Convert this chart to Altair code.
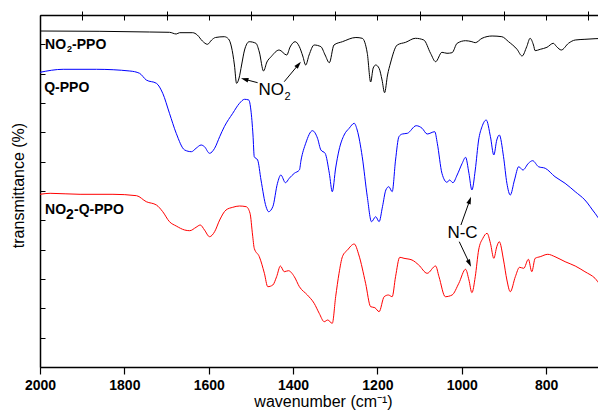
import altair as alt
import pandas as pd

FONT = "Liberation Sans, Arial, Helvetica, sans-serif"

series_names = ["NO2-PPO", "Q-PPO", "NO2-Q-PPO"]
series_colors = ["#000000", "#0000ff", "#ff0000"]

black_wn = [2000, 1858, 1740, 1693, 1677, 1669, 1638, 1627, 1615, 1603,
            1593, 1584, 1563, 1553, 1546, 1539, 1534, 1528, 1522, 1515,
            1504, 1488, 1480, 1470, 1462, 1452, 1433, 1415, 1407, 1395,
            1385, 1377, 1370, 1362, 1350, 1334, 1324, 1314, 1303, 1283,
            1251, 1236, 1224, 1216, 1210, 1204, 1196, 1189, 1183, 1176,
            1169, 1153, 1133, 1110, 1090, 1074, 1062, 1047, 1035, 1023,
            1011, 991, 976, 968, 952, 928, 905, 889, 869, 857,
            846, 838, 830, 826, 814, 798, 783, 775, 764, 747,
            731, 708, 684, 658]
black_t = [336, 335.7, 335, 334.7, 333, 334.3, 334.3, 332, 326, 322.7,
           327, 329.5, 330.3, 328, 320, 302, 283.7, 289, 302, 317,
           325.3, 323.7, 315, 296, 305, 310.3, 317, 312, 320, 325.3,
           320.3, 311, 302, 312, 322, 320.3, 312, 304.3, 322, 325.3,
           329.5, 328.7, 313.7, 285, 299, 302, 298.7, 287, 274.3, 292,
           304, 322, 324.7, 328.7, 327, 313.7, 305.3, 314.7, 313.7, 314.3,
           323.7, 326.3, 325.3, 324.3, 328.7, 331, 330.3, 325.3, 317.7, 311,
           320.3, 328.7, 322, 316.3, 317.7, 319.7, 323.7, 320.3, 317, 323.7,
           327, 327.7, 328.3, 328.7]

blue_wn = [2000, 1945, 1866, 1787, 1764, 1748, 1724, 1709, 1693, 1677,
           1657, 1641, 1630, 1618, 1610, 1598, 1586, 1574, 1563, 1543,
           1527, 1515, 1505, 1500, 1495, 1492, 1484, 1476, 1464, 1458,
           1448, 1437, 1429, 1418, 1409, 1397, 1385, 1381, 1370, 1354,
           1342, 1334, 1324, 1314, 1307, 1299, 1291, 1279, 1267, 1255,
           1248, 1236, 1224, 1214, 1204, 1196, 1188, 1180, 1173, 1165,
           1157, 1149, 1141, 1129, 1108, 1094, 1082, 1064, 1058, 1047,
           1035, 1029, 1021, 1011, 999, 991, 983, 976, 968, 960,
           952, 942, 932, 924, 917, 911, 901, 893, 885, 875,
           865, 855, 842, 832, 818, 802, 779, 755, 731, 708,
           684, 672, 658]
blue_t = [294.7, 297.7, 297.7, 296, 293.7, 287, 283.7, 273.7, 253.7, 233.7,
          217, 215.3, 218.7, 222, 220.3, 213.7, 218.7, 230.3, 240.3, 253.7,
          263.7, 267.7, 267, 257, 232, 210.3, 207, 187, 160.3, 155.3,
          160.3, 183.7, 192, 184.3, 188.7, 193.7, 197, 207, 223.7, 236.3,
          228.7, 217, 213.7, 193.7, 175.3, 199, 217, 232, 238.7, 243.7,
          237, 210.3, 170.3, 145.3, 150.3, 145.3, 160.3, 177, 180.3, 175.3,
          207, 230.3, 233, 233.7, 241.3, 238.7, 233, 235.3, 223.7, 193.7,
          184.7, 187, 184.3, 192, 203.7, 209.7, 193.7, 177, 197, 227,
          240.3, 247, 230.3, 212, 227, 232, 210.3, 183.7, 172, 187,
          200.3, 197, 203.7, 206.3, 200.3, 198.7, 190.3, 183.7, 175.3, 167,
          153.7, 147.7, 147]

red_wn = [2000, 1976, 1905, 1827, 1771, 1748, 1724, 1709, 1693, 1677,
          1657, 1645, 1630, 1620, 1610, 1598, 1586, 1574, 1559, 1543,
          1527, 1511, 1502, 1496, 1492, 1480, 1468, 1460, 1448, 1439,
          1430, 1421, 1411, 1397, 1385, 1366, 1350, 1338, 1326, 1318,
          1307, 1299, 1291, 1283, 1271, 1255, 1244, 1228, 1216, 1206,
          1196, 1184, 1174, 1165, 1157, 1147, 1137, 1118, 1102, 1082,
          1062, 1054, 1039, 1023, 1007, 991, 983, 976, 968, 960,
          950, 940, 932, 924, 917, 911, 901, 893, 885, 873,
          863, 853, 842, 834, 826, 814, 796, 779, 755, 731,
          708, 684, 672, 658]
red_t = [172.7, 173.7, 172.7, 172.7, 171.3, 165.3, 162, 155.3, 145.3, 141,
         137, 136.3, 139.7, 142, 137, 130.3, 135.3, 147, 157, 159.7,
         161, 160.3, 153.7, 132, 118.7, 110.3, 93.7, 80.3, 82, 90.3,
         101, 95.3, 96.3, 90.3, 80.3, 72, 63.7, 53.7, 45.3, 47,
         43.7, 70.3, 93.7, 110.3, 117, 123, 112, 83.7, 60.3, 59.3,
         55.3, 70.3, 72, 70.3, 90.3, 109.7, 108.7, 107, 102, 93.7,
         101, 90.3, 70.3, 72, 83.7, 97.7, 87, 74.3, 90.3, 117,
         128.7, 133.7, 123.7, 108.7, 120.3, 125.3, 107, 87, 75.3, 90.3,
         99.7, 98.7, 107.7, 95.3, 108.7, 110.3, 112.7, 110.3, 105.3, 101,
         95.3, 88.7, 83, 82]

x_ticks_major = [2000, 1800, 1600, 1400, 1200, 1000, 800]
x_ticks_minor = [1900, 1700, 1500, 1300, 1100, 900, 700]
x_ticks_top = [2000, 1900, 1800, 1700, 1600, 1500, 1400, 1300, 1200, 1100, 1000, 900, 800, 700]
y_ticks = [i * 352 / 12 for i in range(13)]

# annotation anchors (wavenumber, value)
arrow_tail_wn = [1484, 1421, 1002, 1006]
arrow_tail_t = [284.3, 285.3, 142, 125.3]
arrow_head_wn = [1512, 1389, 982, 983]
arrow_head_t = [287.4, 301.5, 165.6, 104.8]
arrow_angle = [285, 40, 19.5, 155]

rows = []
for name, wns, ts in [(series_names[0], black_wn, black_t),
                      (series_names[1], blue_wn, blue_t),
                      (series_names[2], red_wn, red_t)]:
    for w, t in zip(wns, ts):
        rows.append({"series": name, "wn": w, "t": t})
df = pd.DataFrame(rows)

W, H = 558, 352
xs = alt.Scale(domain=[2000, 677], nice=False, zero=False)
ys = alt.Scale(domain=[0, 352], nice=False, zero=False)

lines = alt.Chart(df).mark_line(strokeWidth=1, interpolate="monotone", clip=True).encode(
    x=alt.X("wn:Q", scale=xs, axis=alt.Axis(
        values=x_ticks_major, format="d", labelFont=FONT, labelFontSize=14,
        labelFontWeight="bold", labelColor="black", labelPadding=4, labelFlush=False,
        tickSize=7, tickColor="black", tickWidth=1.2, domainColor="black",
        domainWidth=1.5, grid=False, title="wavenumber (cm⁻¹)", titleFont=FONT,
        titleFontSize=16, titleFontWeight="normal", titleColor="black", titlePadding=1,
        titleX=283)),
    y=alt.Y("t:Q", scale=ys, axis=alt.Axis(
        ticks=False, labels=False, grid=False, domainColor="black", domainWidth=1.5,
        title="transmittance (%)", titleFont=FONT, titleFontSize=16,
        titleFontWeight="normal", titleColor="black", titleX=-22, titleY=170,
        titleBaseline="middle", titleAngle=270)),
    color=alt.Color("series:N", scale=alt.Scale(domain=series_names, range=series_colors), legend=None),
    detail="series:N",
)

top = alt.Chart(df).mark_point(opacity=0).encode(
    x=alt.X("wn:Q", scale=xs, axis=alt.Axis(
        orient="bottom", offset=-352, values=x_ticks_top, labels=False, tickSize=5,
        tickColor="black", domainColor="black", domainWidth=1.5, grid=False, title=None)),
    y=alt.Y("t:Q", scale=ys, axis=alt.Axis(
        orient="right", offset=-W, values=y_ticks, labels=False, tickSize=5,
        tickColor="black", domain=False, grid=False, title=None)),
)

minor = alt.Chart(df).mark_point(opacity=0).encode(
    x=alt.X("wn:Q", scale=xs, axis=alt.Axis(
        values=x_ticks_minor, labels=False, tickSize=4, tickColor="black",
        domain=False, grid=False, title=None)),
    y=alt.Y("t:Q", scale=ys, axis=None),
)


def txt(text, wn, val, size, weight="bold", dx=0, dy=0):
    d = pd.DataFrame({"wn": [wn], "t": [val], "s": [text]})
    return alt.Chart(d).mark_text(
        align="left", baseline="alphabetic", font=FONT, fontSize=size,
        fontWeight=weight, dx=dx, dy=dy, color="black").encode(
        x=alt.X("wn:Q", scale=xs, axis=None),
        y=alt.Y("t:Q", scale=ys, axis=None),
        text="s:N")


texts = [
    txt("NO", 1988, 317.7, 14),
    txt("2", 1988, 317.7, 9, dx=22, dy=3),
    txt("-PPO", 1988, 317.7, 14, dx=27),
    txt("Q-PPO", 1990, 275.3, 14),
    txt("NO", 1988, 153, 14),
    txt("2", 1988, 153, 14, dx=21, dy=5),
    txt("-Q-PPO", 1988, 153, 14, dx=29),
    txt("NO", 1482, 272, 17, weight="normal"),
    txt("2", 1482, 272, 11, weight="normal", dx=26, dy=5),
    txt("N-C", 1034, 128.7, 17, weight="normal"),
]

HEAD = "M0,-1L0.45,0.5L-0.45,0.5Z"
arrows = []
for i in range(4):
    seg = pd.DataFrame({"a": [arrow_tail_wn[i]], "b": [arrow_head_wn[i]],
                        "c": [arrow_tail_t[i]], "d": [arrow_head_t[i]]})
    arrows.append(alt.Chart(seg).mark_rule(color="black", strokeWidth=1).encode(
        x=alt.X("a:Q", scale=xs, axis=None), x2="b:Q",
        y=alt.Y("c:Q", scale=ys, axis=None), y2="d:Q"))
    hd = pd.DataFrame({"a": [arrow_head_wn[i]], "c": [arrow_head_t[i]]})
    arrows.append(alt.Chart(hd).mark_point(
        shape=HEAD, angle=arrow_angle[i], size=100, filled=True, color="black",
        opacity=1, strokeWidth=0).encode(
        x=alt.X("a:Q", scale=xs, axis=None),
        y=alt.Y("c:Q", scale=ys, axis=None)))

chart = alt.layer(lines, top, minor, *texts, *arrows).resolve_axis(
    x="independent", y="independent"
).properties(
    width=W, height=H,
    autosize=alt.AutoSizeParams(type="none"),
    padding={"left": 32, "top": 7, "right": 0, "bottom": 45},
).configure_view(stroke=None).configure(background="white")

chart.save("out.html", embed_options={"renderer": "svg", "actions": False})
